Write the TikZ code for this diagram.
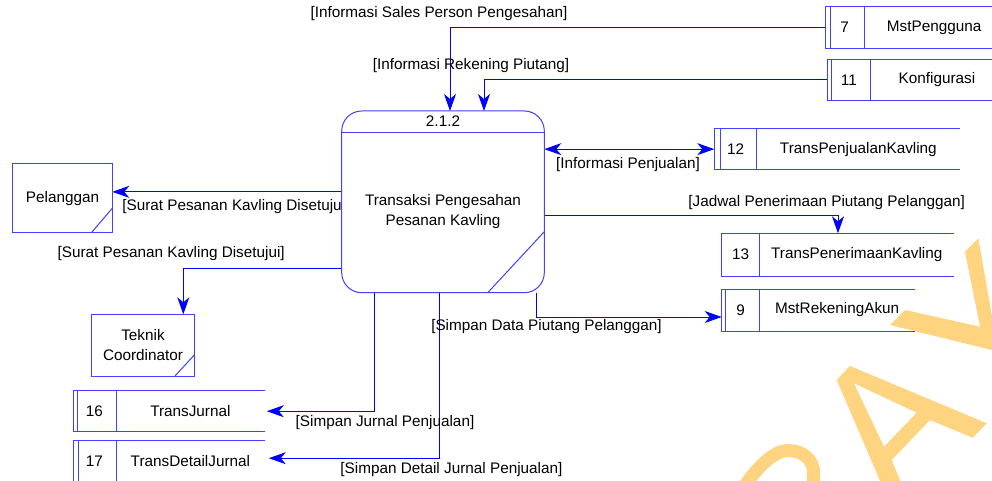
\documentclass[tikz,border=0pt]{standalone}
\usepackage{fontspec}
\setmainfont{Liberation Sans}
\usetikzlibrary{arrows.meta}
\pgfdeclarelayer{bg}
\pgfsetlayers{bg,main}
\definecolor{flowblue}{RGB}{0,0,255}
\definecolor{edgeblue}{RGB}{64,64,255}
\definecolor{markorange}{RGB}{254,212,128}

% data store: name, left, top, right, bottom, divider x, inner line x, number, label
\newcommand\datastore[9]{%
  \node[storebox, minimum width={(#4)-(#2)}, minimum height={(#5)-(#3)}] (#1) at ({((#2)+(#4))/2},{((#3)+(#5))/2}) {};
  \draw[storeline] (#1.north east) -- (#1.north west) -- (#1.south west) -- (#1.south east);
  \draw[storeline] (#6,#3) -- (#6,#5);
  \draw[storeline] (#7,#3) -- (#7,#5);
  \node (#1-no) at ({((#2)+(#6))/2},{((#3)+(#5))/2}) {#8};
  \node (#1-name) at ({((#6)+(#4))/2},{((#3)+(#5))/2}) {#9};
}

\begin{document}
\begin{tikzpicture}[x=1pt,y=-1pt,
  every node/.style={font=\fontsize{15.3}{20}\selectfont, inner sep=0pt, outer sep=0pt},
  storeline/.style={draw=edgeblue, line width=1pt},
  storebox/.style={rectangle, draw=none},
  tip/.tip={Stealth[length=17pt,width=12pt,inset=5pt]},
  flow/.style={draw=flowblue, line width=1pt, -tip},
  flowboth/.style={draw=flowblue, line width=1pt, tip-tip},
  entity/.style={rectangle, draw=edgeblue, line width=1pt, fill=white, align=center},
  proc/.style={rectangle, rounded corners=20pt, draw=edgeblue, line width=1pt, fill=white},
]
\useasboundingbox (0,0) rectangle (992,481);
\clip (0,0) rectangle (992,481);

% external entities
\node[entity, minimum width=99.6, minimum height=68.3] (pel) at (62.5,198.15) {Pelanggan};
\draw[storeline] ([yshift=24pt]pel.south east) -- ([xshift=-20.6pt]pel.south east);
\node[entity, minimum width=102.6, minimum height=61.7] (tek) at (143,345.15) {Teknik\\Coordinator};
\draw[storeline] ([yshift=21pt]tek.south east) -- ([xshift=-19.3pt]tek.south east);

% process 2.1.2
\node[proc, minimum width=202.6, minimum height=181.7] (p) at (443,201.85) {};
\draw[storeline] ([yshift=-22pt]p.north west) -- ([yshift=-22pt]p.north east);
\node (p-id) at ([yshift=-10pt]p.north) {2.1.2};
\node[align=center] (p-name) at (443,212) {Transaksi Pengesahan\\Pesanan Kavling};
\draw[storeline] ([yshift=61pt]p.south east) -- ([xshift=-56.6pt]p.south east);

% data stores
\datastore{ds7}{825}{7}{1004}{48.3}{864.3}{830.7}{7}{MstPengguna}
\datastore{ds11}{827.7}{59.3}{1004}{100.7}{870}{831.7}{11}{Konfigurasi}
\datastore{ds12}{714.3}{128.3}{960}{170}{756.7}{720}{12}{TransPenjualanKavling}
\datastore{ds13}{721.7}{233.3}{954.3}{276}{759.3}{721.7}{13}{TransPenerimaanKavling}
\datastore{ds9}{721.7}{289}{915}{331}{759.3}{725.7}{9}{MstRekeningAkun}
\datastore{ds16}{73}{390.7}{264.8}{431.7}{116}{77.5}{16}{TransJurnal}
\datastore{ds17}{73}{440.7}{264.8}{481.7}{116}{78.5}{17}{TransDetailJurnal}

\begin{pgfonlayer}{bg}
  % watermark letters
  \begin{scope}
    \clip (0,0) rectangle (992,481);
    \fill[markorange] (978.3,238.3) -- (965,251.7) -- (980,326.7) -- (905,310)
      -- (890,325) -- (998.2,351.5) -- cycle;
    \fill[markorange, even odd rule] (836.7,380) -- (850,366) -- (986.7,423.3)
      -- (972.7,437.7) -- (930,420) -- (891.7,460) -- (904,490) -- (884,490) -- cycle
      (854,383.3) -- (916.7,412.7) -- (884,446.7) -- cycle;
    \draw[markorange, line width=13pt] (740,492) -- (748,481)
      .. controls (760,465) and (775,450.5) .. (788,450.5)
      .. controls (803,450.5) and (813.7,460) .. (813.7,473) -- (813.7,492);
  \end{scope}

  % data flows
  \draw[flow] (ds7.west) -| ([xshift=7pt]p.north);
  \draw[flow] (ds11.west) -| ([xshift=41pt]p.north);
  \draw[flowboth] (ds12.west -| p.east) -- (ds12.west);
  \draw[flow] ([yshift=-14pt]p.east) -| (ds13.north);
  \draw[flow] ([xshift=93.7pt]p.south) |- ([yshift=-7pt]ds9.west);
  \draw[flow] ([yshift=10pt]p.west) -- ([yshift=10pt]p.west -| pel.east);
  \draw[flow] ([yshift=-66.5pt]p.west) -| ([xshift=40.3pt]tek.north);
  \draw[flow] ([xshift=-69pt]p.south) |- ([xshift=2pt]ds16.east);
  \draw[flow] ([xshift=-3.5pt]p.south) |- ([xshift=4pt,yshift=3pt]ds17.east);

  % flow labels
  \node (l-sales) at (439,14) {[Informasi Sales Person Pengesahan]};
  \node (l-rek) at (471,66) {[Informasi Rekening Piutang]};
  \node (l-penj) at (628,165) {[Informasi Penjualan]};
  \node (l-jadwal) at (826.7,202.7) {[Jadwal Penerimaan Piutang Pelanggan]};
  \node (l-simpan) at (546.5,327) {[Simpan Data Piutang Pelanggan]};
  \node[anchor=west] (l-surat1) at (122.3,206.7) {[Surat Pesanan Kavling Disetujui]};
  \node (l-surat2) at (171.2,254) {[Surat Pesanan Kavling Disetujui]};
  \node (l-jurnal) at (385,422.3) {[Simpan Jurnal Penjualan]};
  \node (l-detail) at (451.4,469.3) {[Simpan Detail Jurnal Penjualan]};
\end{pgfonlayer}
\end{tikzpicture}
\end{document}
